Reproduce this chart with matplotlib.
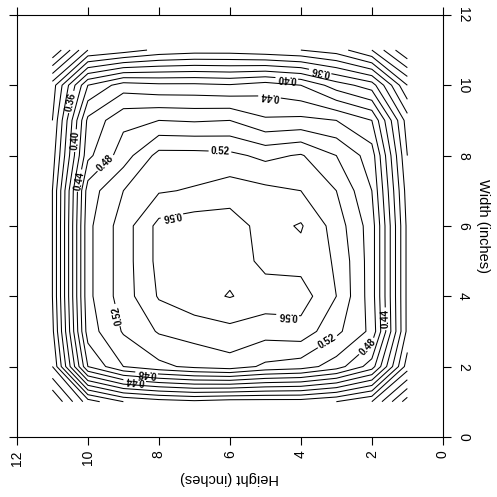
import numpy as np
import matplotlib
matplotlib.use('Agg')
import matplotlib.pyplot as plt

plt.rcParams['font.family'] = ['Liberation Sans', 'DejaVu Sans']

# grid positions (inches)
height = [1, 2, 3, 4, 5, 6, 7, 8, 9, 10, 11]
width = [1, 2, 3, 4, 5, 6, 7, 8, 9, 10, 11]

# measured values, one row per width position, columns = height 1..11
z_w01 = [0.250, 0.320, 0.340, 0.350, 0.350, 0.350, 0.355, 0.350, 0.340, 0.310, 0.240]
z_w02 = [0.330, 0.450, 0.490, 0.510, 0.516, 0.531, 0.525, 0.515, 0.500, 0.460, 0.300]
z_w03 = [0.355, 0.495, 0.525, 0.552, 0.548, 0.554, 0.548, 0.542, 0.522, 0.490, 0.315]
z_w04 = [0.355, 0.490, 0.540, 0.570, 0.572, 0.581, 0.574, 0.562, 0.530, 0.495, 0.320]
z_w05 = [0.355, 0.490, 0.538, 0.552, 0.553, 0.575, 0.575, 0.566, 0.530, 0.495, 0.320]
z_w06 = [0.355, 0.490, 0.531, 0.562, 0.552, 0.570, 0.572, 0.566, 0.530, 0.495, 0.320]
z_w07 = [0.350, 0.480, 0.520, 0.540, 0.545, 0.550, 0.542, 0.538, 0.520, 0.490, 0.320]
z_w08 = [0.340, 0.470, 0.500, 0.522, 0.515, 0.525, 0.527, 0.527, 0.490, 0.455, 0.310]
z_w09 = [0.330, 0.440, 0.460, 0.465, 0.463, 0.480, 0.478, 0.480, 0.475, 0.445, 0.300]
z_w10 = [0.280, 0.370, 0.390, 0.420, 0.430, 0.422, 0.425, 0.425, 0.430, 0.400, 0.290]
z_w11 = [0.200, 0.260, 0.290, 0.300, 0.305, 0.310, 0.310, 0.305, 0.290, 0.280, 0.200]

plain_levels = [0.20, 0.22, 0.24, 0.26, 0.28, 0.30, 0.32, 0.34, 0.38,
                0.42, 0.46, 0.50, 0.54, 0.58]
label_levels = [0.36, 0.40, 0.44, 0.48, 0.52, 0.56]

# label anchor points (height, width) and desired reading angle
label_points = [(3.46, 10.37), (4.39, 10.28), (4.87, 9.77), (6.28, 8.09),
                (10.45, 9.52), (10.42, 8.43), (10.25, 7.29), (9.38, 7.66),
                (7.6, 6.1), (4.37, 3.5), (9.01, 3.5), (8.34, 1.88), (8.68, 1.6),
                (3.27, 2.74), (2.2, 2.65), (1.55, 3.36)]
label_angles = [180, 180, 180, 0,
                90, 90, 90, 60,
                180, 180, 140, 170, 175,
                60, 75, 90]

xticks = [0, 2, 4, 6, 8, 10, 12]
yticks = [0, 2, 4, 6, 8, 10, 12]

Z = np.array([z_w01, z_w02, z_w03, z_w04, z_w05, z_w06, z_w07, z_w08, z_w09, z_w10, z_w11])
H, W = np.meshgrid(height, width)

fig = plt.figure(figsize=(4.97, 4.97), dpi=100)
ax = fig.add_axes([0.034, 0.121, 0.857, 0.849])
ax.set_xlim(12, 0)
ax.set_ylim(0, 12)

ax.contour(H, W, Z, levels=plain_levels, colors='black', linewidths=0.75)
cs = ax.contour(H, W, Z, levels=label_levels, colors='black', linewidths=0.75)
ax.clabel(cs, manual=label_points, inline=True, fontsize=7, fmt='%.2f',
          inline_spacing=2)
for t in cs.labelTexts:
    t.set_fontweight('bold')

for t, d in zip(cs.labelTexts, label_angles):
    a = t.get_rotation() % 360
    b = (a + 180) % 360
    da = min(abs(a - d), 360 - abs(a - d))
    db = min(abs(b - d), 360 - abs(b - d))
    t.set_rotation(a if da <= db else b)

ax.set_xticks(xticks)
ax.set_yticks(yticks)
ax.set_xticklabels([str(v) for v in xticks], rotation=90, fontsize=10)
ax.set_yticklabels([str(v) for v in yticks], rotation=270, fontsize=10, va='center')
ax.tick_params(axis='x', top=True, bottom=True, labeltop=False, labelbottom=True,
               direction='out', length=6, width=0.8)
ax.tick_params(axis='y', left=True, right=True, labelleft=False, labelright=True,
               direction='out', length=6, width=0.8)
for s in ax.spines.values():
    s.set_linewidth(0.8)

ax.set_xlabel('Height (inches)', rotation=180, fontsize=10.5, va='center')
ax.xaxis.set_label_coords(0.5, -0.097)
ax.yaxis.set_label_position('right')
ax.set_ylabel('Width (inches)', rotation=270, fontsize=10.5, va='center', ha='center')
ax.yaxis.set_label_coords(1.094, 0.5)

fig.savefig('out.png', dpi=100)
